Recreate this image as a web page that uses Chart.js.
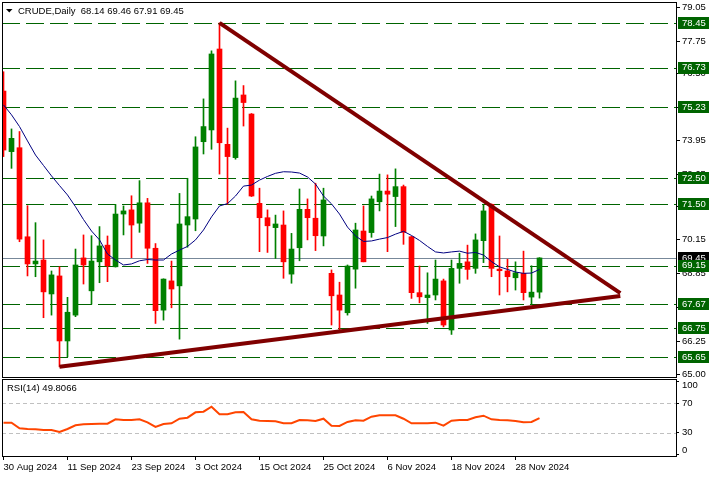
<!DOCTYPE html>
<html>
<head>
<meta charset="utf-8">
<title>CRUDE, Daily</title>
<script src="https://cdn.jsdelivr.net/npm/chart.js@4.4.1/dist/chart.umd.min.js"></script>
<style>
  html, body { margin: 0; padding: 0; background: #fff; }
  #wrap { position: relative; width: 716px; height: 477px; overflow: hidden; }
  #priceBox { position: absolute; left: 0; top: 0; width: 716px; height: 378px; }
  #rsiBox { position: absolute; left: 0; top: 378px; width: 716px; height: 99px; }
</style>
</head>
<body>
<div id="wrap">
  <div id="priceBox"><canvas id="priceChart"></canvas></div>
  <div id="rsiBox"><canvas id="rsiChart"></canvas></div>
</div>
<script>
// daily candles, 30 Aug 2024 .. 3 Dec 2024 (one entry per trading day)
const opens  = [75.84,73.52,73.67,70.26,69.22,69.37,68.07,68.76,66.27,67.26,69.45,68.19,69.30,69.94,69.11,71.13,71.29,70.78,71.56,69.82,
                67.45,68.57,68.38,70.71,70.94,73.90,74.35,77.45,73.80,73.29,75.69,74.96,71.54,70.99,70.61,70.71,68.83,69.84,71.31,70.97,
                70.29,68.86,68.03,67.35,69.02,70.48,70.42,71.60,72.01,71.80,72.18,70.26,68.12,67.93,68.03,68.57,66.69,69.05,69.30,69.05,
                70.11,71.50,69.02,68.95,68.69,68.86,67.95,68.14];
const highs  = [76.58,74.39,74.29,71.45,70.80,70.14,68.95,69.11,67.94,69.79,70.33,70.30,70.65,70.29,71.50,71.44,71.83,72.41,71.73,70.00,
                68.65,69.33,71.92,72.50,74.09,75.54,77.38,78.45,74.42,76.23,76.05,74.98,72.12,71.29,71.09,71.25,70.39,72.09,71.71,72.31,
                72.12,68.99,68.52,69.18,70.78,71.44,71.82,72.66,72.63,72.86,72.24,70.28,69.14,68.88,69.37,68.64,69.37,69.63,69.94,70.37,
                71.50,71.52,70.29,69.40,69.30,69.71,69.15,69.46];
const lows   = [73.33,72.88,70.07,68.76,68.73,67.16,67.26,65.28,65.66,67.20,68.45,67.68,68.50,68.54,69.10,70.33,69.46,70.43,69.24,66.94,
                67.07,67.54,66.34,69.86,70.49,73.43,73.61,72.66,71.50,73.23,74.50,71.80,69.69,69.66,69.43,68.67,68.48,69.34,70.14,69.73,
                69.91,66.88,66.62,67.26,68.29,69.30,70.24,71.25,69.69,70.65,69.97,67.90,67.73,66.94,67.84,66.81,66.52,68.48,68.63,68.86,
                69.27,68.73,68.03,68.15,68.22,67.84,67.67,67.91];
const closes = [73.58,74.03,70.17,69.22,69.33,68.15,68.80,66.27,67.37,69.18,69.18,69.33,69.91,69.15,71.13,71.25,70.71,71.56,69.82,67.43,
                68.64,68.26,70.75,71.03,73.70,74.48,77.26,73.86,73.33,75.57,75.40,71.82,70.99,70.68,70.75,69.30,69.79,71.31,70.99,70.30,
                71.67,68.00,67.45,69.14,70.52,69.30,71.71,72.01,71.89,72.18,70.43,68.12,67.96,68.03,68.64,66.88,69.05,69.24,69.01,70.14,
                71.25,69.05,68.96,68.73,68.88,68.12,68.14,69.45];

// moving average line
const maLine = [75.31,74.93,74.48,73.93,73.39,72.99,72.59,72.22,71.86,71.41,70.92,70.48,70.14,69.60,69.37,69.18,69.22,69.34,69.39,69.37,
                69.37,69.60,69.75,69.89,70.14,70.52,71.02,71.44,71.53,71.82,72.20,72.24,72.43,72.57,72.69,72.75,72.74,72.70,72.55,72.28,
                71.82,71.52,71.13,70.63,70.29,70.08,70.10,70.17,70.23,70.36,70.47,70.31,70.12,69.89,69.68,69.64,69.68,69.71,69.63,69.66,
                69.56,69.31,69.11,69.01,68.91,68.86,68.87,69.01];

// RSI(14)
const rsiValues = [43.6,43.6,36.0,35.0,34.6,33.7,33.7,31.0,35.0,40.0,41.4,41.8,42.3,42.3,48.2,47.3,47.3,48.2,44.1,37.8,
                   41.8,42.8,49.0,50.4,57.7,58.6,65.4,55.0,55.0,57.7,58.2,48.2,46.3,45.9,45.5,42.8,42.8,47.3,46.9,45.9,
                   49.0,39.5,39.1,44.6,46.9,46.3,51.8,53.7,53.7,53.7,49.0,42.8,42.8,42.8,43.6,39.5,46.3,47.3,47.3,50.9,
                   53.1,48.2,47.3,46.9,45.9,44.1,44.6,49.8];
const rsiLast = '49.8066';

const dateTickIdx = [0, 8, 16, 24, 32, 40, 48, 56, 64];
const dateTickLabels = ['30 Aug 2024', '11 Sep 2024', '23 Sep 2024', '3 Oct 2024', '15 Oct 2024',
                        '25 Oct 2024', '6 Nov 2024', '18 Nov 2024', '28 Nov 2024'];

const priceTicks = [79.05, 77.75, 76.50, 75.20, 73.95, 72.65, 71.40, 70.15, 68.85, 67.55, 66.25, 65.00];
const levels = [78.45, 76.73, 75.23, 72.50, 71.50, 69.15, 67.67, 66.75, 65.65];
const lastPrice = 69.45;
const rsiTicks = [100, 70, 30, 0];
const rsiLevels = [70, 30];

// hand-drawn trend lines (bar index, price)
const upperTrend = [{ x: 27, y: 78.45 }, { x: 77.1, y: 68.10 }];
const lowerTrend = [{ x: 7, y: 65.28 }, { x: 77.1, y: 67.99 }];

const FONT = '"Liberation Sans", Arial, sans-serif';
const X_MIN = -0.1875, X_MAX = 84.0625;

const candleColors = opens.map((o, i) => closes[i] >= o ? '#008000' : '#ff0000');
const bodyData = opens.map((o, i) => ({ x: i, y: [Math.min(o, closes[i]), Math.max(o, closes[i])] }));
const wickData = lows.map((l, i) => ({ x: i, y: [l, highs[i]] }));

function drawFrame(ctx, a) {
  ctx.save();
  ctx.strokeStyle = '#000';
  ctx.lineWidth = 1;
  const l = Math.floor(a.left) + 0.5, t = Math.floor(a.top) + 0.5;
  const r = Math.floor(a.right) + 0.5, b = Math.floor(a.bottom) + 0.5;
  ctx.strokeRect(l, t, r - l, b - t);
  ctx.restore();
}

const pricePlugin = {
  id: 'pricePlugin',
  beforeDatasetsDraw(chart) {
    const { ctx, chartArea: a, scales: { y } } = chart;
    ctx.save();
    ctx.beginPath();
    ctx.rect(a.left, a.top, a.width, a.height);
    ctx.clip();
    ctx.lineWidth = 1;
    ctx.strokeStyle = '#006400';
    ctx.setLineDash([18, 6]);
    levels.forEach(v => {
      const py = Math.round(y.getPixelForValue(v)) + 0.5;
      ctx.beginPath();
      ctx.moveTo(a.left, py);
      ctx.lineTo(a.right, py);
      ctx.stroke();
    });
    ctx.setLineDash([]);
    ctx.strokeStyle = '#778899';
    const lp = Math.round(y.getPixelForValue(lastPrice)) + 0.5;
    ctx.beginPath();
    ctx.moveTo(a.left, lp);
    ctx.lineTo(a.right, lp);
    ctx.stroke();
    ctx.restore();
  },
  afterDraw(chart) {
    const { ctx, chartArea: a, scales: { y } } = chart;
    drawFrame(ctx, a);
    ctx.save();
    ctx.font = '9.5px ' + FONT;
    ctx.textBaseline = 'middle';
    ctx.textAlign = 'left';
    // price label boxes
    const boxX = a.right + 2;
    let py = y.getPixelForValue(lastPrice);
    ctx.fillStyle = '#000';
    ctx.fillRect(boxX, Math.round(py) - 6, 31, 12);
    ctx.fillStyle = '#fff';
    ctx.fillText(lastPrice.toFixed(2), boxX + 4, py);
    levels.forEach(v => {
      py = y.getPixelForValue(v);
      ctx.fillStyle = '#006400';
      ctx.fillRect(boxX, Math.round(py) - 6, 31, 12);
      ctx.fillStyle = '#fff';
      ctx.fillText(v.toFixed(2), boxX + 4, py);
    });
    // header
    ctx.fillStyle = '#000';
    ctx.beginPath();
    ctx.moveTo(6, 9);
    ctx.lineTo(12.5, 9);
    ctx.lineTo(9.25, 12.5);
    ctx.closePath();
    ctx.fill();
    const n = closes.length - 1;
    const ohlc = [opens[n], highs[n], lows[n], closes[n]].map(v => v.toFixed(2)).join(' ');
    ctx.fillText('CRUDE,Daily  ' + ohlc, 18, 11);
    ctx.restore();
  }
};

new Chart(document.getElementById('priceChart'), {
  type: 'bar',
  data: {
    datasets: [
      { type: 'line', data: upperTrend, borderColor: '#800000', borderWidth: 4, pointRadius: 0, order: 1 },
      { type: 'line', data: lowerTrend, borderColor: '#800000', borderWidth: 4, pointRadius: 0, order: 1 },
      { type: 'line', data: maLine.map((v, i) => ({ x: i, y: v })), borderColor: '#000080', borderWidth: 1,
        pointRadius: 0, tension: 0, order: 2 },
      { data: bodyData, backgroundColor: candleColors, barThickness: 5, minBarLength: 1, grouped: false, order: 3 },
      { data: wickData, backgroundColor: candleColors, barThickness: 1, grouped: false, order: 4 }
    ]
  },
  options: {
    responsive: true,
    maintainAspectRatio: false,
    animation: false,
    events: [],
    layout: { padding: { left: 2, top: 2, right: 0, bottom: 1 } },
    plugins: { legend: { display: false }, tooltip: { enabled: false } },
    scales: {
      x: { type: 'linear', min: X_MIN, max: X_MAX, offset: false, display: false },
      y: {
        position: 'right',
        min: 64.89,
        max: 79.25,
        afterBuildTicks(scale) { scale.ticks = priceTicks.map(v => ({ value: v })); },
        afterFit(scale) { scale.width = 40; scale.paddingTop = 0; scale.paddingBottom = 0; },
        border: { display: false },
        grid: { drawOnChartArea: false, drawTicks: true, tickLength: 4, color: '#000' },
        ticks: {
          autoSkip: false,
          padding: 2,
          color: '#000',
          font: { family: FONT, size: 9.5 },
          callback: v => Number(v).toFixed(2)
        }
      }
    }
  },
  plugins: [pricePlugin]
});

const rsiPlugin = {
  id: 'rsiPlugin',
  beforeDatasetsDraw(chart) {
    const { ctx, chartArea: a, scales: { y } } = chart;
    ctx.save();
    ctx.strokeStyle = '#c0c0c0';
    ctx.lineWidth = 1;
    ctx.setLineDash([4, 3]);
    rsiLevels.forEach(v => {
      const py = Math.round(y.getPixelForValue(v)) + 0.5;
      ctx.beginPath();
      ctx.moveTo(a.left, py);
      ctx.lineTo(a.right, py);
      ctx.stroke();
    });
    ctx.restore();
  },
  afterDraw(chart) {
    const { ctx, chartArea: a, scales: { y } } = chart;
    drawFrame(ctx, a);
    ctx.save();
    ctx.font = '9.5px ' + FONT;
    ctx.textBaseline = 'middle';
    ctx.textAlign = 'left';
    ctx.fillStyle = '#000';
    ctx.fillText('RSI(14) ' + rsiLast, 7, 10);
    rsiTicks.forEach(v => {
      const py = Math.min(Math.max(y.getPixelForValue(v), a.top + 6), a.bottom - 6);
      ctx.fillText(String(v), a.right + 6, py);
    });
    ctx.restore();
  }
};

new Chart(document.getElementById('rsiChart'), {
  type: 'line',
  data: {
    datasets: [{
      data: rsiValues.map((v, i) => ({ x: i, y: v })),
      borderColor: '#ff4500',
      borderWidth: 2,
      pointRadius: 0,
      tension: 0
    }]
  },
  options: {
    responsive: true,
    maintainAspectRatio: false,
    animation: false,
    events: [],
    layout: { padding: { left: 2, top: 1, right: 0, bottom: 0 } },
    plugins: { legend: { display: false }, tooltip: { enabled: false } },
    scales: {
      x: {
        type: 'linear',
        min: X_MIN,
        max: X_MAX,
        offset: false,
        afterBuildTicks(scale) { scale.ticks = dateTickIdx.map(v => ({ value: v })); },
        afterFit(scale) { scale.height = 21; scale.paddingLeft = 0; scale.paddingRight = 0; },
        border: { display: false },
        grid: { drawOnChartArea: false, drawTicks: true, tickLength: 4, color: '#000' },
        ticks: {
          autoSkip: false,
          maxRotation: 0,
          align: 'start',
          padding: 2,
          color: '#000',
          font: { family: FONT, size: 9.5 },
          callback: v => dateTickLabels[dateTickIdx.indexOf(v)] || ''
        }
      },
      y: {
        position: 'right',
        min: -1.7,
        max: 103,
        afterBuildTicks(scale) { scale.ticks = rsiTicks.map(v => ({ value: v })); },
        afterFit(scale) { scale.width = 40; scale.paddingTop = 0; scale.paddingBottom = 0; },
        border: { display: false },
        grid: { drawOnChartArea: false, drawTicks: true, tickLength: 3, color: '#000' },
        ticks: { display: false }
      }
    }
  },
  plugins: [rsiPlugin]
});
</script>
</body>
</html>
